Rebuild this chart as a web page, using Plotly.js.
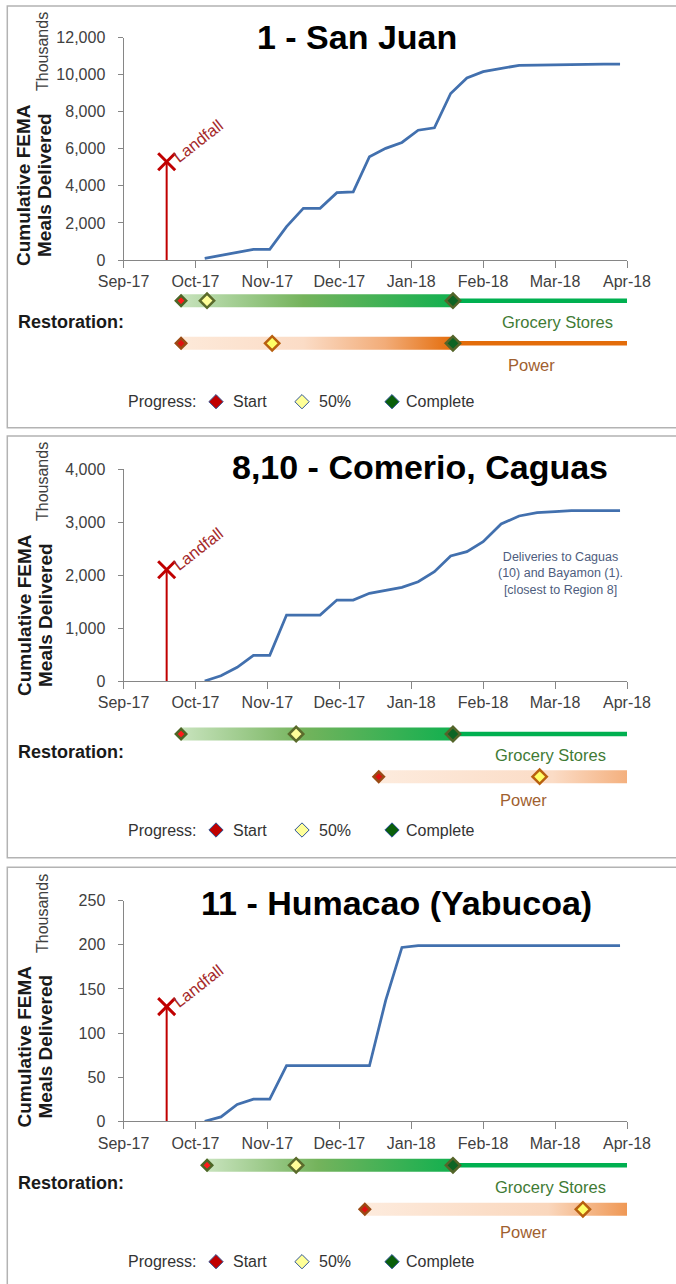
<!DOCTYPE html>
<html><head><meta charset="utf-8">
<script src="https://cdn.plot.ly/plotly-3.0.1.min.js"></script>
<style>html,body{margin:0;padding:0;background:#fff}</style>
</head><body><div id="chart" style="width:676px;height:1284px"></div>
<script>
// ---------------- DATA ----------------
const monthLabels = ['Sep-17','Oct-17','Nov-17','Dec-17','Jan-18','Feb-18','Mar-18','Apr-18'];
const weekDates = ['2017-10-05','2017-10-12','2017-10-19','2017-10-26','2017-11-02','2017-11-09','2017-11-16','2017-11-23','2017-11-30',
  '2017-12-07','2017-12-14','2017-12-21','2017-12-28','2018-01-04','2018-01-11','2018-01-18','2018-01-25',
  '2018-02-01','2018-02-08','2018-02-15','2018-02-22','2018-03-01','2018-03-08','2018-03-15','2018-03-22','2018-03-29'];
const sanJuanMeals = [90,270,410,575,575,1800,2790,2790,3630,3670,5570,6020,6340,7000,7130,8980,9820,10160,10310,10500,10510,10530,10550,10560,10560,10560];
const comerioCaguasMeals = [0,100,258,484,484,1245,1245,1245,1528,1528,1654,1717,1767,1874,2063,2359,2440,2629,2963,3113,3176,3195,3214,3214,3214,3214];
const humacaoMeals = [0,5,19,25,25,63,63,63,63,63,63,137,197,199,199,199,199,199,199,199,199,199,199,199,199,199];
const panelTitles = ['1 - San Juan','8,10 - Comerio, Caguas','11 - Humacao (Yabucoa)'];
const yMax = [12000, 4000, 250];
const yStep = [2000, 1000, 50];
const landfallDate = '2017-09-19';
const landfallMarkerHeight = [5300, 2100, 130];
const groceryStart = ['2017-09-25','2017-09-25','2017-10-06'];
const grocery50 = ['2017-10-06','2017-11-13','2017-11-13'];
const groceryComplete = ['2018-01-19','2018-01-19','2018-01-19'];
const powerStart = ['2017-09-25','2017-12-18','2017-12-12'];
const power50 = ['2017-11-03','2018-02-23','2018-03-13'];
const powerComplete = ['2018-01-19', null, null];
const chartEndDate = '2018-04-01';
const noteText = ['', 'Deliveries to Caguas<br>(10) and Bayamon (1).<br>[closest to Region 8]', ''];
const progressLabels = ['Start','50%','Complete'];

// ---------------- HELPERS / STYLE ----------------
const W = 676, H = 1284;
const px = v => v / W, py = v => 1 - v / H;
function mpos(d){ const [Y,M,D] = d.split('-').map(Number); const dim = new Date(Y, M, 0).getDate(); return (Y-2017)*12 + (M-9) + (D-1)/dim; }
const SANS = '"Liberation Sans", Arial, sans-serif';
const AX = '#868686';

const geom = [
  {top:6, bot:427.7, yTop:37.5, yBot:260, title:[357,37], rowG:300.7, rowP:343.3, rest:322, gTxt:[557.5,321.7], pTxt:[531,365], prog:401.7, yt:185, th:52, note:null,
   pScale:[[0,'#fde9d9'],[0.45,'#fbdcc6'],[0.75,'#f2ac78'],[1,'#e46c0a']]},
  {top:436, bot:857.7, yTop:469, yBot:681, title:[420,467], rowG:734, rowP:776.7, rest:751.7, gTxt:[550,755], pTxt:[523,800], prog:830, yt:615, th:482, note:[560,573],
   pScale:[[0,'#fdebdd'],[0.7,'#fbdcc6'],[1,'#f4b07e']]},
  {top:867.3, bot:1295, yTop:900.7, yBot:1121.3, title:[397,903], rowG:1165.3, rowP:1209.3, rest:1182.7, gTxt:[550,1186.7], pTxt:[523,1231.7], prog:1261.7, yt:1046.5, th:914, note:null,
   pScale:[[0,'#fdebdd'],[0.7,'#fad7bd'],[1,'#ef9855']]}
];
const groceryScale = [[0,'#c8e3bd'],[0.45,'#74b35c'],[1,'#12b04f']];
const series = [sanJuanMeals, comerioCaguasMeals, humacaoMeals];

const traces = [], annotations = [], shapes = [];
const layout = {
  width: W, height: H, margin:{l:0,r:0,t:0,b:0}, paper_bgcolor:'#fff', plot_bgcolor:'rgba(0,0,0,0)', showlegend:false,
  xaxis4:{domain:[0,1], range:[0,W], anchor:'y7', visible:false, fixedrange:true},
  yaxis7:{domain:[0,1], range:[H,0], anchor:'x4', visible:false, fixedrange:true}
};
const ann = (o) => annotations.push(Object.assign({xref:'paper', yref:'paper', showarrow:false}, o));

geom.forEach((g, i) => {
  const s = i === 0 ? '' : String(i+1);
  const xa = 'x'+s, ya = 'y'+s, ra = 'y'+(i+4);
  layout['xaxis'+s] = {domain:[px(123.5), px(627)], range:[0,7], anchor:ya, tickmode:'array',
    tickvals: monthLabels.map((_,k)=>k), ticktext: monthLabels, showgrid:false, zeroline:false,
    showline:true, linecolor:AX, linewidth:1, ticks:'outside', ticklen:7, tickcolor:AX, tickwidth:1,
    tickfont:{family:SANS, size:16, color:'#404040'}, fixedrange:true};
  layout['yaxis'+s] = {domain:[py(g.yBot), py(g.yTop)], range:[0,yMax[i]], dtick:yStep[i], tick0:0, tickformat:',d',
    anchor:xa, showgrid:false, zeroline:false, showline:true, linecolor:AX, linewidth:1, ticks:'outside', ticklen:5,
    tickcolor:AX, ticklabelstandoff:9, tickfont:{family:SANS, size:16, color:'#404040'}, fixedrange:true};
  const u = g.rowP - g.rowG;
  layout['yaxis'+(i+4)] = {domain:[py(g.rowP+0.4*u), py(g.rowG-0.4*u)], range:[-0.4,1.4], anchor:xa, visible:false, fixedrange:true};

  // border
  shapes.push({type:'rect', xref:'paper', yref:'paper', x0:px(7.3), x1:px(690), y0:py(g.bot), y1:py(g.top), line:{color:'#b3b3b3', width:1.5}});

  // main line
  traces.push({x: weekDates.map(mpos), y: series[i], xaxis:xa, yaxis:ya, mode:'lines', line:{color:'#4270ae', width:2.75}, hoverinfo:'skip'});
  // landfall
  const lf = mpos(landfallDate), lh = landfallMarkerHeight[i];
  traces.push({x:[lf,lf], y:[0,lh], xaxis:xa, yaxis:ya, mode:'lines', line:{color:'#c00000', width:2}, hoverinfo:'skip'});
  traces.push({x:[lf], y:[lh], xaxis:xa, yaxis:ya, mode:'markers', marker:{symbol:'x-thin', size:17, line:{color:'#c00000', width:3}}, hoverinfo:'skip'});
  annotations.push({xref:xa, yref:ya, x:lf, y:lh, xshift:31, yshift:21, text:'Landfall', textangle:-38, showarrow:false,
    font:{family:SANS, size:16.5, color:'#a52a2a'}});

  // restoration rows (Grocery = 1, Power = 0)
  const GR = 1, PR = 0, hh = 6.5/u;
  const endX = mpos(chartEndDate);
  const gS = mpos(groceryStart[i]), gH = mpos(grocery50[i]), gC = mpos(groceryComplete[i]);
  traces.push({x:[gS,gC,gC,gS,gS], y:[GR-hh,GR-hh,GR+hh,GR+hh,GR-hh], xaxis:xa, yaxis:ra, mode:'lines', line:{width:0},
    fill:'toself', fillgradient:{type:'horizontal', colorscale:groceryScale}, hoverinfo:'skip'});
  traces.push({x:[gC,endX], y:[GR,GR], xaxis:xa, yaxis:ra, mode:'lines', line:{color:'#00b050', width:4.5}, hoverinfo:'skip'});
  const pS = mpos(powerStart[i]), pH = mpos(power50[i]);
  const pC = powerComplete[i] ? mpos(powerComplete[i]) : endX;
  traces.push({x:[pS,pC,pC,pS,pS], y:[PR-hh,PR-hh,PR+hh,PR+hh,PR-hh], xaxis:xa, yaxis:ra, mode:'lines', line:{width:0},
    fill:'toself', fillgradient:{type:'horizontal', colorscale:g.pScale}, hoverinfo:'skip'});
  if (powerComplete[i]) traces.push({x:[pC,endX], y:[PR,PR], xaxis:xa, yaxis:ra, mode:'lines', line:{color:'#e36c0a', width:4.5}, hoverinfo:'skip'});
  // diamonds
  traces.push({x:[gS], y:[GR], xaxis:xa, yaxis:ra, mode:'markers', marker:{symbol:'diamond', size:8, color:'#ff1a1a', line:{color:'#4d6627', width:2.5}}, hoverinfo:'skip'});
  traces.push({x:[pS], y:[PR], xaxis:xa, yaxis:ra, mode:'markers', marker:{symbol:'diamond', size:8, color:'#e01010', line:{color:'#9a4a14', width:2.5}}, hoverinfo:'skip'});
  traces.push({x:[gH], y:[GR], xaxis:xa, yaxis:ra, mode:'markers', marker:{symbol:'diamond', size:11, color:'#ffff99', line:{color:'#5b6b2c', width:2.5}}, hoverinfo:'skip'});
  traces.push({x:[pH], y:[PR], xaxis:xa, yaxis:ra, mode:'markers', marker:{symbol:'diamond', size:11, color:'#ffff66', line:{color:'#b8600f', width:2.5}}, hoverinfo:'skip'});
  const cx = [gC], cy = [GR];
  if (powerComplete[i]) { cx.push(pC); cy.push(PR); }
  traces.push({x:cx, y:cy, xaxis:xa, yaxis:ra, mode:'markers', marker:{symbol:'diamond', size:11, color:'#0d6424', line:{color:'#55652a', width:2.5}}, hoverinfo:'skip'});

  // texts
  ann({x:px(g.title[0]), y:py(g.title[1]), xanchor:'center', yanchor:'middle', text:panelTitles[i], font:{family:SANS, size:34, color:'#000', weight:700}});
  ann({x:px(24), y:py(g.yt), xanchor:'center', yanchor:'middle', textangle:-90, text:'Cumulative FEMA', font:{family:SANS, size:19, color:'#1a1a1a', weight:700}});
  ann({x:px(45), y:py(g.yt), xanchor:'center', yanchor:'middle', textangle:-90, text:'Meals Delivered', font:{family:SANS, size:19, color:'#1a1a1a', weight:700}});
  ann({x:px(42), y:py(g.th), xanchor:'center', yanchor:'middle', textangle:-90, text:'Thousands', font:{family:SANS, size:16, color:'#404040'}});
  ann({x:px(16), y:py(g.rest), xanchor:'left', yanchor:'middle', text:'Restoration:', font:{family:SANS, size:18, color:'#1a1a1a', weight:700}});
  ann({x:px(g.gTxt[0]), y:py(g.gTxt[1]), xanchor:'center', yanchor:'middle', text:'Grocery Stores', font:{family:SANS, size:16.5, color:'#3f7b35'}});
  ann({x:px(g.pTxt[0]), y:py(g.pTxt[1]), xanchor:'center', yanchor:'middle', text:'Power', font:{family:SANS, size:16.5, color:'#a0602f'}});
  if (g.note) ann({x:px(g.note[0]), y:py(g.note[1]), xanchor:'center', yanchor:'middle', align:'center', text:noteText[i], font:{family:SANS, size:12.5, color:'#4e5d7e'}});

  // progress key
  ann({x:px(126), y:py(g.prog), xanchor:'left', yanchor:'middle', text:'Progress:', font:{family:SANS, size:16, color:'#333'}});
  const keyX = [216, 302, 392], keyTxtX = [231, 317, 404];
  traces.push({x:keyX, y:keyX.map(()=>g.prog), xaxis:'x4', yaxis:'y7', mode:'markers',
    marker:{symbol:'diamond', size:11, color:['#c00000','#ffff99','#0a5f0a'], line:{color:'#2f5597', width:1}}, hoverinfo:'skip'});
  progressLabels.forEach((t,k) => ann({x:px(keyTxtX[k]), y:py(g.prog), xanchor:'left', yanchor:'middle', text:t, font:{family:SANS, size:16, color:'#333'}}));
});
layout.annotations = annotations;
layout.shapes = shapes;
Plotly.newPlot('chart', traces, layout, {displayModeBar:false, staticPlot:true});
</script></body></html>
